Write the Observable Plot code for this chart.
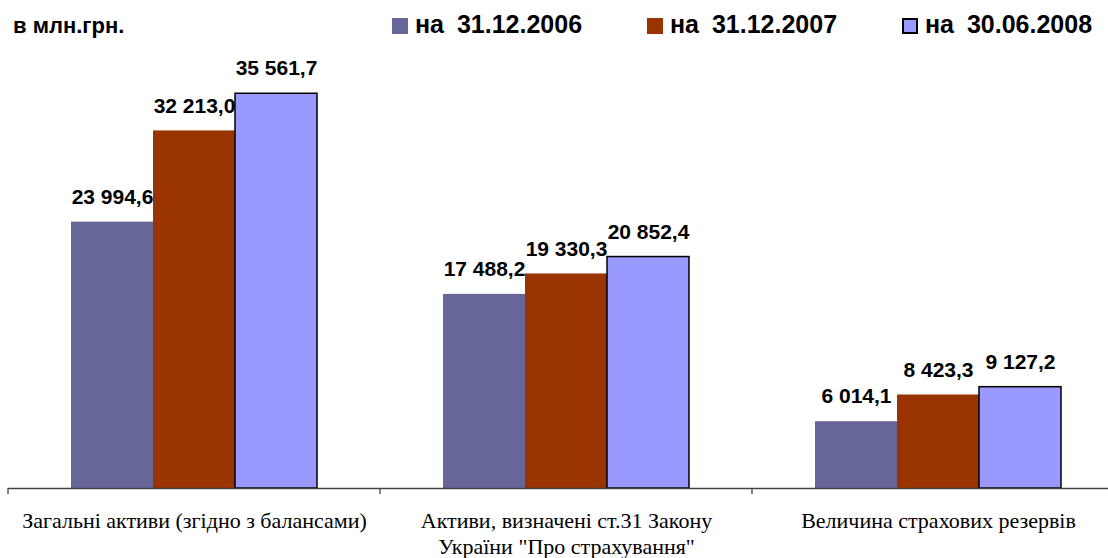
<!DOCTYPE html>
<html><head><meta charset="utf-8">
<script src="https://cdn.jsdelivr.net/npm/d3@7"></script>
<script src="https://cdn.jsdelivr.net/npm/@observablehq/plot@0.6"></script>
<style>
body{margin:0;background:#fff;}
#wrap{position:relative;width:1108px;height:558px;overflow:hidden;}
#wrap svg{position:absolute;left:0;top:0;}
#unit{position:absolute;left:13px;top:15px;font:bold 22px/22px "Liberation Sans",Arial,sans-serif;color:#000;z-index:2;white-space:nowrap;}
#legend{position:absolute;left:392px;top:12px;display:flex;font:bold 25px/25px "Liberation Sans",Arial,sans-serif;color:#000;z-index:2;word-spacing:6px;}
.item{display:flex;align-items:flex-start;width:255px;white-space:nowrap;}
.sw{width:16px;height:16px;margin-right:7px;margin-top:6px;box-sizing:border-box;flex:none;}
</style></head><body>
<div id="wrap"><div id="unit"></div><div id="legend"></div></div>
<script>
const unitLabel = "в млн.грн.";
const categories = [
  "Загальні активи (згідно з балансами)",
  "Активи, визначені ст.31 Закону\nУкраїни \"Про страхування\"",
  "Величина страхових резервів"
];
const series = ["на 31.12.2006", "на 31.12.2007", "на 30.06.2008"];
const colors = ["#666699", "#993300", "#9999FF"];
const values2006 = [23994.6, 17488.2, 6014.1];
const values2007 = [32213.0, 19330.3, 8423.3];
const values2008 = [35561.7, 20852.4, 9127.2];

const seriesValues = [values2006, values2007, values2008];
const data = categories.flatMap((c, i) =>
  series.map((s, j) => ({category: c, series: s, value: seriesValues[j][i]}))
);
const fmt = d3.formatLocale({decimal: ",", thousands: " ", grouping: [3]}).format(",.1f");
const sans = "Liberation Sans, Arial, sans-serif";
const serif = "Liberation Serif, Times New Roman, serif";

const plot = Plot.plot({
  width: 1108, height: 558,
  marginTop: 44, marginBottom: 70, marginLeft: 8, marginRight: -16,
  style: {background: "transparent", overflow: "visible"},
  fx: {domain: categories, padding: 0, axis: null, label: null},
  x: {domain: series, paddingInner: 0, paddingOuter: 0.76, axis: null, label: null},
  y: {domain: [0, 40000], axis: null, label: null},
  color: {domain: series, range: colors},
  marks: [
    Plot.barY(data, {fx: "category", x: "series", y: "value", fill: "series"}),
    Plot.barY(data, {filter: d => d.series === series[2], fx: "category", x: "series", y: "value",
      fill: "series", stroke: "#000", strokeWidth: 1.5}),
    Plot.ruleY([0], {stroke: "#444", strokeWidth: 1.3}),
    Plot.text(data, {fx: "category", x: "series", y: "value", text: d => fmt(d.value),
      dy: -25, fontSize: 21, fontWeight: "bold", fontFamily: sans, fill: "#000"}),
    Plot.text(categories, {fx: d => d, text: d => d, frameAnchor: "bottom", lineAnchor: "top",
      dy: 21, fontSize: 22, fontFamily: serif, lineHeight: 1.18, fill: "#000"})
  ]
});
const wrap = document.getElementById("wrap");
wrap.appendChild(plot);

// category boundary ticks on the axis, from the fx band scale
const fxs = plot.scale("fx");
const ys = plot.scale("y");
const y0 = ys.apply(0);
const svg = d3.select(plot);
const edges = categories.map(c => fxs.apply(c));
svg.append("g").selectAll("line").data(edges).join("line")
  .attr("x1", d => d).attr("x2", d => d)
  .attr("y1", y0).attr("y2", y0 + 6)
  .attr("stroke", "#444").attr("stroke-width", 1.3);

document.getElementById("unit").textContent = unitLabel;
const legend = d3.select("#legend");
series.forEach((s, i) => {
  const item = legend.append("div").attr("class", "item");
  item.append("div").attr("class", "sw")
    .style("background", colors[i])
    .style("border", i === 2 ? "2px solid #000" : "none");
  item.append("span").text(s);
});
</script>
</body></html>
